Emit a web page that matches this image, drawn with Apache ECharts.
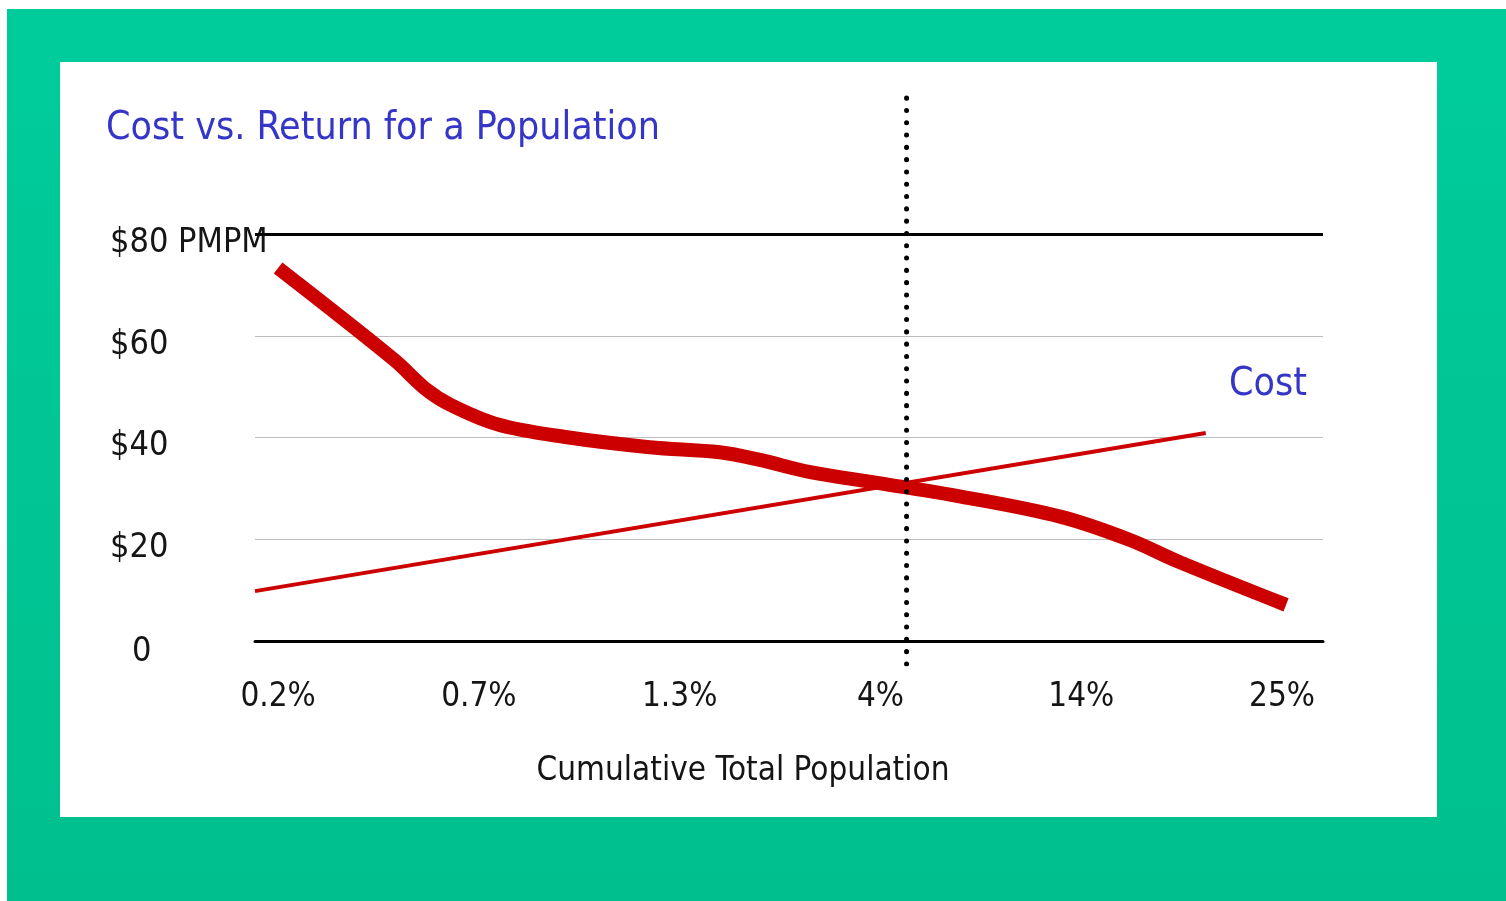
<!DOCTYPE html>
<html>
<head>
<meta charset="utf-8">
<script src="https://cdn.jsdelivr.net/npm/echarts@6/dist/echarts.min.js"></script>
<style>
  html, body { margin: 0; padding: 0; background: #fff; width: 1506px; height: 901px; overflow: hidden; }
  #bg { position: absolute; left: 7px; top: 9px; width: 1499px; height: 892px;
        background: linear-gradient(to bottom, #00CC9B, #00BF8E); }
  #panel { position: absolute; left: 60px; top: 62px; width: 1377px; height: 755px; background: #fff; }
  #chart { position: absolute; left: 0; top: 0; width: 1506px; height: 901px; }
</style>
</head>
<body>
<div id="bg"></div>
<div id="panel"></div>
<div id="chart"></div>
<script>
// ---- data ----
const titleText = 'Cost vs. Return for a Population';
const xAxisTitle = 'Cumulative Total Population';
const xLabels = ['0.2%', '0.7%', '1.3%', '4%', '14%', '25%'];
const xLabelPositions = [0, 1, 2, 3, 4, 5];
const yTickLabels = { 0: '0', 20: '$20', 40: '$40', 60: '$60', 80: '$80 PMPM' };
// thick curve (declining)
const curveX = [0, 0.58, 0.73, 0.86, 1.1, 1.43, 1.85, 2.2, 2.4, 2.65, 3.0, 3.4, 3.9, 4.24, 4.49, 5.02];
const curveY = [73.3, 55.2, 49.7, 46.4, 42.5, 40.1, 38.1, 37.1, 35.6, 33.2, 31.0, 28.4, 24.4, 19.9, 15.5, 7.1];
// thin straight line (rising)
const lineX = [-0.115, 4.62];
const lineY = [9.8, 40.9];
// break-even marker
const breakEvenX = 3.13;
const costLabel = 'Cost';

const FONT = '"Liberation Sans Narrow", "Arial Narrow", "DejaVu Sans Condensed", sans-serif';
const BLUE = '#3535C8';
const INK = '#151515';

const chart = echarts.init(document.getElementById('chart'), null, { renderer: 'canvas' });
const zip = (a, b) => a.map((v, i) => [v, b[i]]);

chart.setOption({
  backgroundColor: 'transparent',
  animation: false,
  title: [
    { text: titleText, left: 101, top: 104, textStyle: { fontFamily: FONT, fontSize: 39, fontWeight: 'normal', color: BLUE } },
    { text: xAxisTitle, left: 738, top: 750, textAlign: 'center', textStyle: { fontFamily: FONT, fontSize: 33, fontWeight: 'normal', color: INK } },
    { text: costLabel, left: 1224, top: 360, textStyle: { fontFamily: FONT, fontSize: 39, fontWeight: 'normal', color: BLUE } }
  ],
  grid: [
    { left: 255, right: 183, top: 234, bottom: 901 - 641 },
    { left: 255, right: 183, top: 97, bottom: 901 - 664 }
  ],
  xAxis: [
    {
      gridIndex: 0, type: 'value', min: -0.115, max: 5.204,
      axisLine: { show: true, onZero: false, lineStyle: { color: '#000', width: 3 } },
      axisTick: { show: false },
      splitLine: { show: false },
      axisLabel: {
        customValues: xLabelPositions, margin: 40, fontFamily: FONT, fontSize: 33, color: INK,
        formatter: v => xLabels[xLabelPositions.indexOf(Math.round(v))] || ''
      }
    },
    { gridIndex: 1, type: 'value', min: -0.115, max: 5.204, show: false }
  ],
  yAxis: [
    {
      gridIndex: 0, type: 'value', min: 0, max: 80, interval: 20,
      axisLine: { show: false }, axisTick: { show: false },
      splitLine: { show: true, lineStyle: { color: ['transparent', '#BDBDBD', '#BDBDBD', '#BDBDBD', 'transparent'], width: 1 } },
      axisLabel: {
        align: 'left', margin: 145, fontFamily: FONT, fontSize: 34, color: INK,
        padding: [18, 0, 0, 0],
        formatter: v => v === 0 ? '{z|0}' : yTickLabels[v],
        rich: { z: { fontFamily: FONT, fontSize: 34, color: INK, padding: [4, 0, 0, 22] } }
      }
    },
    { gridIndex: 1, type: 'value', min: 0, max: 1, show: false }
  ],
  series: [
    {
      type: 'line', xAxisIndex: 0, yAxisIndex: 0, data: zip(lineX, lineY),
      symbol: 'none', lineStyle: { color: '#CC0000', width: 4 },
      markLine: {
        silent: true, symbol: 'none', label: { show: false },
        lineStyle: { color: '#000', width: 3, type: 'solid' },
        data: [{ yAxis: 80 }]
      }
    },
    {
      type: 'line', xAxisIndex: 0, yAxisIndex: 0, data: zip(curveX, curveY),
      symbol: 'none', smooth: 0.35, lineStyle: { color: '#CC0000', width: 14, cap: 'butt' }
    },
    {
      type: 'line', xAxisIndex: 1, yAxisIndex: 1, data: [[breakEvenX, 0], [breakEvenX, 1]],
      symbol: 'none', lineStyle: { color: '#000', width: 5, type: [0.1, 12.2], cap: 'round' }
    }
  ]
});
</script>
</body>
</html>
